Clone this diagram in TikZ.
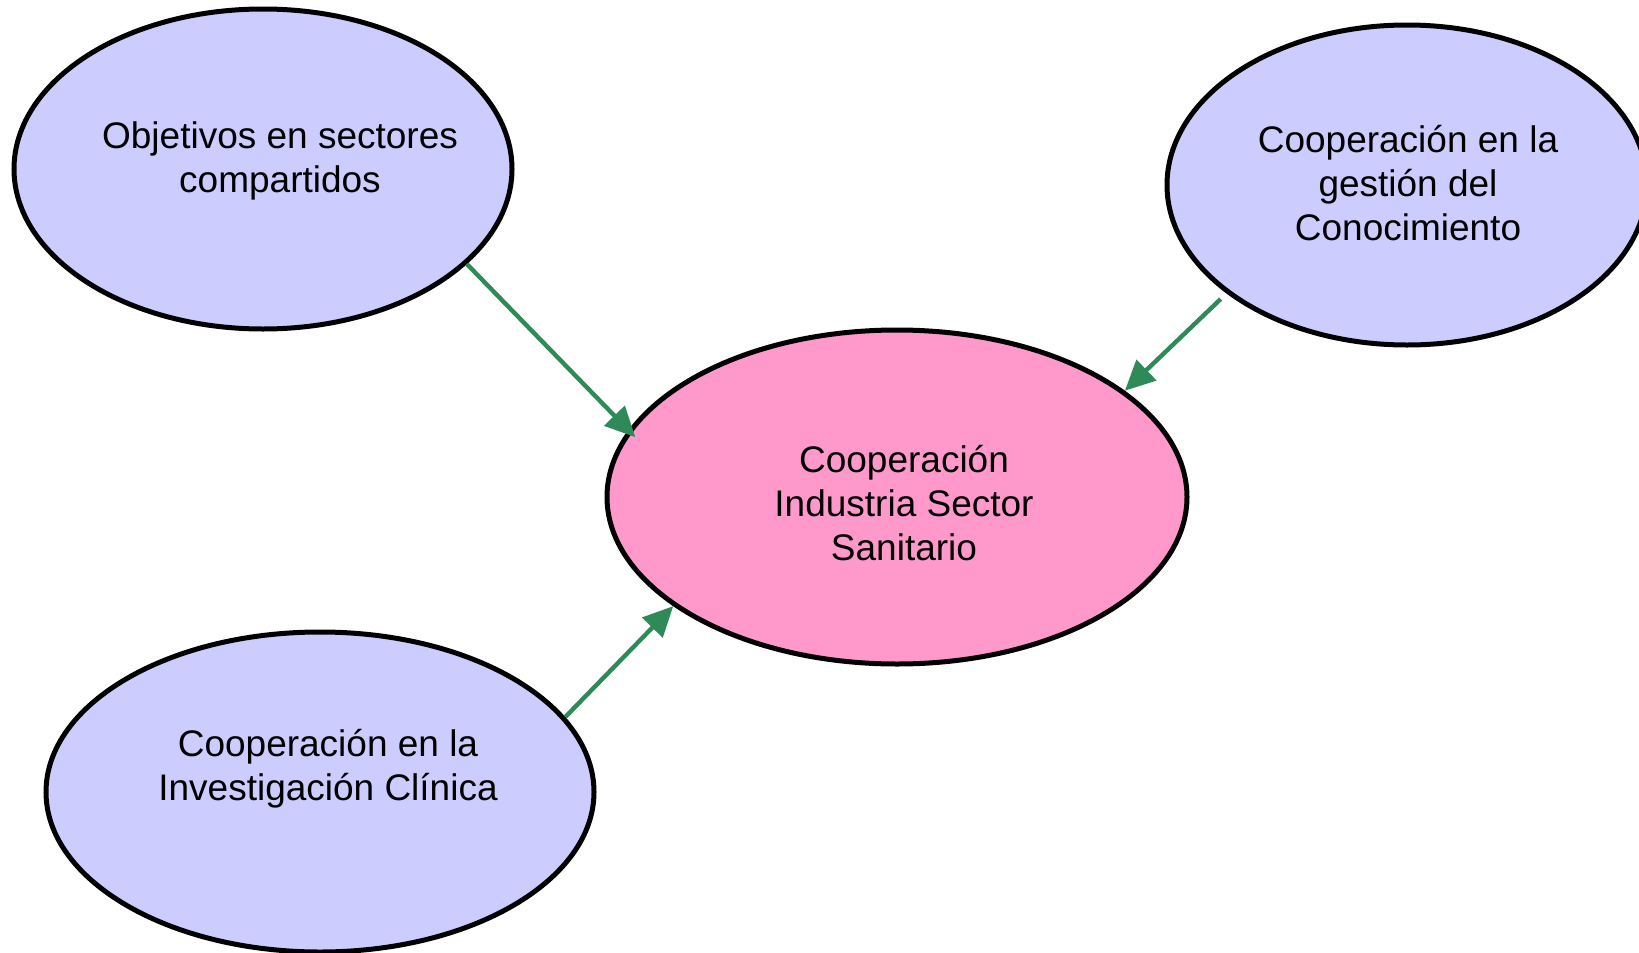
\documentclass[tikz,border=0pt]{standalone}
\usepackage{fontspec}
\setmainfont{Liberation Sans}
\usetikzlibrary{shapes.geometric,arrows.meta}
\definecolor{lila}{RGB}{204,204,255}
\definecolor{rosa}{RGB}{255,153,204}
\definecolor{verde}{RGB}{46,139,87}
\begin{document}
\begin{tikzpicture}[x=0.5pt, y=-0.5pt,
    burbuja/.style={ellipse, draw=black, line width=2.5pt, inner sep=0pt},
    texto/.style={align=center, inner sep=0pt, font=\fontsize{18.5}{22}\selectfont},
    flecha/.style={draw=verde, line width=2.2pt, -{Triangle[length=15pt,width=14pt]}}]

\useasboundingbox (0,0) rectangle (1639,953);

%elipses

\node[burbuja, fill=rosa, minimum width=290pt, minimum height=167pt] (coop) at (897,497) {};
\node[burbuja, fill=lila, minimum width=249pt, minimum height=160pt] (obj) at (263,169) {};
\node[burbuja, fill=lila, minimum width=240pt, minimum height=160pt] (gest) at (1407,185) {};
\node[burbuja, fill=lila, minimum width=274pt, minimum height=160pt] (inv) at (320,792) {};

%textos

\node[texto] (coopT) at (904,503) {Cooperación\\Industria Sector\\Sanitario};
\node[texto] (objT) at (280,161) {Objetivos en sectores\\compartidos};
\node[texto] (gestT) at (1408,183) {Cooperación en la\\gestión del\\Conocimiento};
\node[texto] (invT) at (328,769) {Cooperación en la\\Investigación Clínica};

%flechas

\draw[flecha, shorten >=-5pt] (obj.-25.4) -- (coop.166);
\draw[flecha, shorten <=4pt] (gest.-149.3) -- (coop.25.1);
\draw[flecha] (inv.17.9) -- (coop.-154.9);
\end{tikzpicture}
\end{document}
